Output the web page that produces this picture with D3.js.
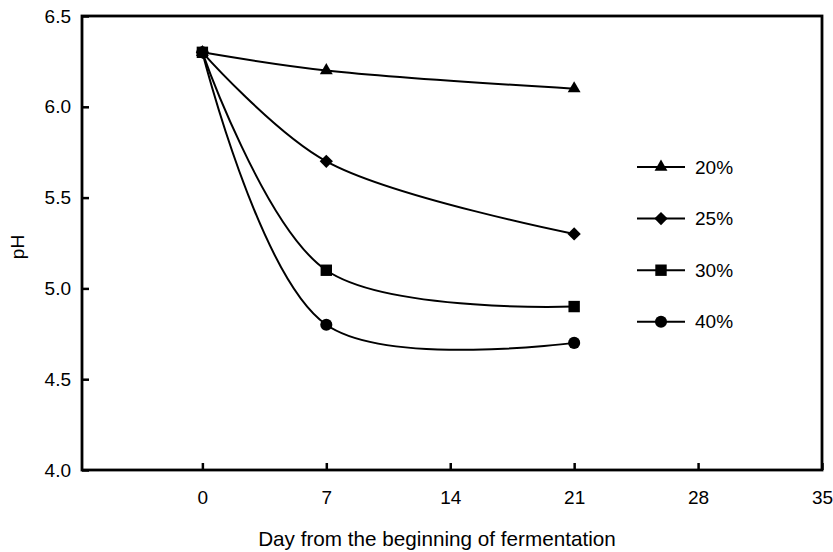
<!DOCTYPE html>
<html>
<head>
<meta charset="utf-8">
<script src="https://cdn.jsdelivr.net/npm/d3@7"></script>
<style>
  body { margin: 0; background: #fff; }
  text { font-family: "Liberation Sans", Arial, sans-serif; fill: #000; }
</style>
</head>
<body>
<div id="chart"><svg></svg></div>
<script>
var width = 833;
var height = 552;
var margins = { left: 82, top: 16, right: 11, bottom: 82 };

// days of sampling and pH per salt level
var days = [0, 7, 21];
var ph20 = [6.3, 6.2, 6.1];
var ph25 = [6.3, 5.7, 5.3];
var ph30 = [6.3, 5.1, 4.9];
var ph40 = [6.3, 4.8, 4.7];
var seriesNames = ["20%", "25%", "30%", "40%"];
var xTicks = [0, 7, 14, 21, 28, 35];
var yTicks = [4.0, 4.5, 5.0, 5.5, 6.0, 6.5];

var series = [
  { name: seriesNames[0], values: ph20, shape: "triangle" },
  { name: seriesNames[1], values: ph25, shape: "diamond" },
  { name: seriesNames[2], values: ph30, shape: "square" },
  { name: seriesNames[3], values: ph40, shape: "circle" }
];

var xscale = d3.scaleLinear()
               .domain([-6.8, 35])
               .range([margins.left, width - margins.right]);
var yscale = d3.scaleLinear()
               .domain([4.0, 6.5])
               .range([height - margins.bottom, margins.top]);

var svg = d3.select("#chart").select("svg")
            .attr("width", width)
            .attr("height", height);

// symbols
function symbolPath(shape) {
  if (shape === "triangle") return d3.symbol().type(d3.symbolTriangle).size(72)();
  if (shape === "diamond") return d3.symbol().type(d3.symbolSquare).size(88)();
  if (shape === "square") return d3.symbol().type(d3.symbolSquare).size(130)();
  return d3.symbol().type(d3.symbolCircle).size(115)();
}
function symbolRotate(shape) {
  return shape === "diamond" ? " rotate(45)" : "";
}

// axes, ticks pointing inward
var xaxis = d3.axisBottom(xscale)
              .tickValues(xTicks)
              .tickSize(-7)
              .tickPadding(21)
              .tickFormat(d3.format("d"));
var yaxis = d3.axisLeft(yscale)
              .tickValues(yTicks)
              .tickSize(-7)
              .tickPadding(11)
              .tickFormat(d3.format(".1f"));

var gx = svg.append("g")
     .attr("transform", "translate(0," + yscale(4.0) + ")")
     .call(xaxis);
var gy = svg.append("g")
     .attr("transform", "translate(" + margins.left + ",0)")
     .call(yaxis);
[gx, gy].forEach(function(g) {
  g.select(".domain").remove();
  g.selectAll(".tick line").attr("stroke", "#000").attr("stroke-width", 2.5);
  g.selectAll(".tick text").style("font-size", "19px").attr("fill", "#000");
});

// frame
svg.append("rect")
   .attr("x", xscale(-6.8))
   .attr("y", yscale(6.5))
   .attr("width", xscale(35) - xscale(-6.8))
   .attr("height", yscale(4.0) - yscale(6.5))
   .attr("fill", "none")
   .attr("stroke", "#000")
   .attr("stroke-width", 2.8);

// axis titles
svg.append("text")
   .attr("x", 437)
   .attr("y", 546)
   .attr("text-anchor", "middle")
   .style("font-size", "20.7px")
   .text("Day from the beginning of fermentation");
svg.append("text")
   .attr("transform", "translate(24," + (yscale(5.25) + 4) + ") rotate(-90)")
   .attr("text-anchor", "middle")
   .style("font-size", "19px")
   .text("pH");

// curves
var line = d3.line()
             .x(function(d, i) { return xscale(days[i]); })
             .y(function(d) { return yscale(d); })
             .curve(d3.curveCatmullRom.alpha(0.5));

svg.selectAll("path.curve")
   .data(series)
   .enter().append("path")
   .attr("class", "curve")
   .attr("d", function(s) { return line(s.values); })
   .attr("fill", "none")
   .attr("stroke", "#000")
   .attr("stroke-width", 2);

// markers (30% drawn last so its square sits on top at day 0)
var markerOrder = [series[3], series[0], series[1], series[2]];
markerOrder.forEach(function(s) {
  svg.append("g").selectAll("path")
     .data(s.values)
     .enter().append("path")
     .attr("d", symbolPath(s.shape))
     .attr("transform", function(d, i) {
       return "translate(" + xscale(days[i]) + "," + yscale(d) + ")" + symbolRotate(s.shape);
     })
     .attr("fill", "#000");
});

// legend
var legend = svg.append("g").attr("transform", "translate(637,167)");
var items = legend.selectAll("g")
                  .data(series)
                  .enter().append("g")
                  .attr("transform", function(d, i) { return "translate(0," + (i * 51.6) + ")"; });
items.append("line")
     .attr("x1", 0).attr("x2", 48)
     .attr("stroke", "#000").attr("stroke-width", 2);
items.append("path")
     .attr("d", function(d) { return symbolPath(d.shape); })
     .attr("transform", function(d) { return "translate(24,0)" + symbolRotate(d.shape); })
     .attr("fill", "#000");
items.append("text")
     .attr("x", 58)
     .attr("dy", "0.35em")
     .style("font-size", "19px")
     .text(function(d) { return d.name; });
</script>
</body>
</html>
